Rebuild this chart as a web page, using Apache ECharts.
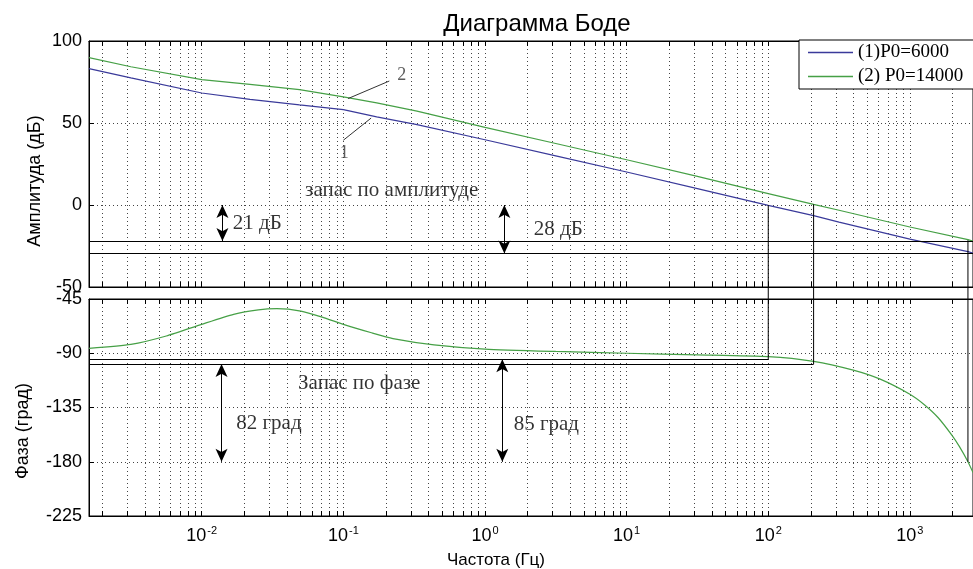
<!DOCTYPE html>
<html>
<head>
<meta charset="UTF-8">
<title>Диаграмма Боде</title>
<script src="https://cdn.jsdelivr.net/npm/echarts@6/dist/echarts.min.js"></script>
<style>
  html, body { margin: 0; padding: 0; background: #fff; }
  #main { width: 973px; height: 569px; }
</style>
</head>
<body>
<div id="main"></div>
<script>
// частоты в Гц
var ampFreq  = [0.0016, 0.00316, 0.01, 0.0219, 0.049, 0.1, 0.172, 0.331, 1, 3.16, 10, 31.6, 100, 209, 316, 1000, 2570, 2790];
var amp1     = [83.2, 77.5, 68.3, 64.4, 61, 58.2, 53.7, 49, 39.8, 30, 20.1, 10, -0.2, -6.5, -10.4, -20.8, -28.4, -29.3];
var amp2     = [89.9, 84.3, 76.5, 73.6, 70.4, 65.9, 62.3, 57.2, 47.3, 37.5, 27.6, 17.5, 6.9, 0.4, -3.2, -13.4, -21.1, -22];

var phaseFreq = [0.0016, 0.00316, 0.00562, 0.01, 0.0168, 0.0251, 0.0339, 0.0501, 0.0708, 0.1, 0.158, 0.224, 0.437,
                 1, 3.16, 10, 31.6, 100, 209, 398, 617, 1000, 1259, 1585, 1995, 2239, 2570, 2790];
var phase2    = [-86, -82.7, -75.7, -66, -57.7, -54, -53, -55, -60, -66, -73, -77.8, -83,
                 -86.5, -88.5, -90, -91.3, -92.8, -96.7, -104, -111.5, -124, -132.5, -143.5, -158.5, -167.5, -180, -189];

var xLabelExp = [-2, -1, 0, 1, 2, 3];
var fMin = 0.0016, fMax = 2790;

// линии запасов (Гц, значение)
var ampLines = [
  [[fMin, -22], [fMax, -22]],
  [[fMin, -29.6], [fMax, -29.6]]
];
// вертикали через обе панели: частота, уровень в дБ, уровень фазы
var crossLines = [
  [100, 0, -95],
  [209, 0.4, -99],
  [2570, -21.5, -180]
];
var ampArrows = [
  [[0.014, 0], [0.014, -22]],
  [[1.37, 0], [1.37, -29.6]]
];
var leaders = [
  [[0.108, 64.9], [0.211, 75.6]],
  [[0.157, 53], [0.1, 39.5]]
];
var phaseLines = [
  [[fMin, -95], [100, -95]],
  [[fMin, -99], [209, -99]]
];
var phaseArrows = [
  [[0.0138, -99], [0.0138, -180]],
  [[1.325, -95], [1.325, -180]]
];
var ampTexts = [
  ['запас по амплитуде', 0.2193, 9],
  ['21 дБ', 0.0247, -11.3],
  ['28 дБ', 3.296, -15]
];
var numTexts = [
  ['2', 0.258, 79.1],
  ['1', 0.1014, 31.3]
];
var phaseTexts = [
  ['Запас по фазе', 0.1294, -114.9],
  ['82 град', 0.0298, -148],
  ['85 град', 2.71, -148.8]
];

var XMIN = Math.log10(fMin), XMAX = Math.log10(fMax);
var tickExp = [];
for (var n = -3; n <= 3; n++) {
  for (var k = 1; k <= 9; k++) {
    var v = n + Math.log10(k);
    if (v >= XMIN - 1e-9 && v <= XMAX + 1e-9) tickExp.push(v);
  }
}

function lx(f) { return Math.log10(f); }
function pts(fs, vs) { return fs.map(function (f, i) { return [lx(f), vs[i]]; }); }
function seg(s, sym) {
  return [
    { coord: [lx(s[0][0]), s[0][1]], symbol: sym, symbolSize: [9, 13] },
    { coord: [lx(s[1][0]), s[1][1]], symbol: sym, symbolSize: [9, 13] }
  ];
}
function txt(list, size, color) {
  return list.map(function (t) {
    return { value: [lx(t[1]), t[2]], label: { formatter: t[0], fontSize: size, color: color } };
  });
}

var serif = 'Liberation Serif';
var sans = 'Liberation Sans';
var dotted = { color: '#444', type: [1, 3], width: 1 };

function xAx(g, pos, label, split) {
  return {
    type: 'value', gridIndex: g, position: pos, min: XMIN, max: XMAX,
    axisLine: { show: true, onZero: false, lineStyle: { color: '#000' } },
    axisTick: { show: true, inside: true, length: 5, customValues: tickExp, lineStyle: { color: '#000' } },
    axisLabel: label ? {
      customValues: xLabelExp, margin: 9,
      formatter: function (v) { return '{b|10}{e|' + Math.round(v) + '}'; },
      rich: {
        b: { fontSize: 18, fontFamily: sans, color: '#000' },
        e: { fontSize: 11, fontFamily: sans, color: '#000', padding: [0, 0, 12, 1] }
      }
    } : { show: false },
    splitLine: { show: split, lineStyle: dotted }
  };
}
function yAx(g, min, max, step) {
  return {
    type: 'value', gridIndex: g, min: min, max: max, interval: step,
    axisLine: { show: true, onZero: false, lineStyle: { color: '#000' } },
    axisTick: { show: true, inside: true, length: 5, lineStyle: { color: '#000' } },
    axisLabel: { fontSize: 18, fontFamily: sans, color: '#000', margin: 7 },
    splitLine: { show: true, lineStyle: dotted }
  };
}

var series = [
  { name: '(1)P0=6000', type: 'line', xAxisIndex: 0, yAxisIndex: 0, symbol: 'none',
    lineStyle: { color: '#3a3a9a', width: 1.2 }, itemStyle: { color: '#3a3a9a' }, data: pts(ampFreq, amp1) },
  { name: '(2) P0=14000', type: 'line', xAxisIndex: 0, yAxisIndex: 0, symbol: 'none',
    lineStyle: { color: '#46a046', width: 1.2 }, itemStyle: { color: '#46a046' }, data: pts(ampFreq, amp2) },
  { name: '(2) P0=14000', type: 'line', xAxisIndex: 2, yAxisIndex: 1, symbol: 'none', smooth: 0.2,
    lineStyle: { color: '#46a046', width: 1.2 }, itemStyle: { color: '#46a046' }, data: pts(phaseFreq, phase2) },
  { name: 'amp-marks', type: 'line', xAxisIndex: 0, yAxisIndex: 0, data: [], silent: true,
    markLine: {
      silent: true, animation: false, symbol: 'none', label: { show: false },
      lineStyle: { color: '#000', width: 1, type: 'solid' },
      emphasis: { disabled: true },
      data: ampLines.map(function (s) { return seg(s, 'none'); })
        .concat(ampArrows.map(function (s) { return seg(s, 'arrow'); }))
        .concat(leaders.map(function (s) {
          var p = seg(s, 'none'); p[0].lineStyle = { color: '#333', width: 1 }; return p;
        }))
    } },
  { name: 'phase-marks', type: 'line', xAxisIndex: 2, yAxisIndex: 1, data: [], silent: true,
    markLine: {
      silent: true, animation: false, symbol: 'none', label: { show: false },
      lineStyle: { color: '#000', width: 1, type: 'solid' },
      emphasis: { disabled: true },
      data: phaseLines.map(function (s) { return seg(s, 'none'); })
        .concat(phaseArrows.map(function (s) { return seg(s, 'arrow'); }))
    } },
  { name: 'amp-text', type: 'scatter', xAxisIndex: 0, yAxisIndex: 0, symbolSize: 1, silent: true,
    itemStyle: { color: 'rgba(0,0,0,0)' },
    label: { show: true, position: 'inside', fontFamily: serif },
    data: txt(ampTexts, 21, '#000').concat(txt(numTexts, 18, '#333')) },
  { name: 'phase-text', type: 'scatter', xAxisIndex: 2, yAxisIndex: 1, symbolSize: 1, silent: true,
    itemStyle: { color: 'rgba(0,0,0,0)' },
    label: { show: true, position: 'inside', fontFamily: serif },
    data: txt(phaseTexts, 21, '#000') }
];

// вертикальные линии: в верхней панели продолжаются через промежуток до нижней
crossLines.forEach(function (c, i) {
  series.push({ name: 'cross-a' + i, type: 'line', xAxisIndex: 0, yAxisIndex: 0, symbol: 'none',
    clip: false, silent: true, lineStyle: { color: '#000', width: 1 },
    data: [[lx(c[0]), c[1]], [lx(c[0]), -57.3]] });
  series.push({ name: 'cross-p' + i, type: 'line', xAxisIndex: 2, yAxisIndex: 1, symbol: 'none',
    clip: false, silent: true, lineStyle: { color: '#000', width: 1 },
    data: [[lx(c[0]), -45], [lx(c[0]), c[2]]] });
});

var myChart = echarts.init(document.getElementById('main'));
var option = {
  backgroundColor: '#fff',
  animation: false,
  title: {
    text: 'Диаграмма Боде', left: 532, top: 7, textAlign: 'center',
    textStyle: { fontSize: 24, fontWeight: 'normal', fontFamily: sans, color: '#000' }
  },
  legend: {
    data: ['(1)P0=6000', '(2) P0=14000'],
    orient: 'vertical', left: 799, top: 40,
    icon: 'rect', itemWidth: 45, itemHeight: 1.5, itemGap: 5,
    padding: [3, 30, 3, 9],
    borderColor: '#000', borderWidth: 1, backgroundColor: '#fff',
    textStyle: { fontSize: 19, fontFamily: serif, color: '#000', lineHeight: 19 }
  },
  grid: [
    { left: 89, right: 0, top: 41, height: 246, show: true, borderColor: '#000', borderWidth: 1 },
    { left: 89, right: 0, top: 299, height: 217, show: true, borderColor: '#000', borderWidth: 1 }
  ],
  xAxis: [xAx(0, 'bottom', false, true), xAx(0, 'top', false, false),
          xAx(1, 'bottom', true, true), xAx(1, 'top', false, false)],
  yAxis: [yAx(0, -50, 100, 50), yAx(1, -225, -45, 45)],
  graphic: [
    { type: 'text', x: 35, y: 181, rotation: Math.PI / 2,
      style: { text: 'Амплитуда (дБ)', fontSize: 18, fontFamily: sans, fill: '#000', textAlign: 'center', textVerticalAlign: 'middle' } },
    { type: 'text', x: 23, y: 431, rotation: Math.PI / 2,
      style: { text: 'Фаза (град)', fontSize: 18, fontFamily: sans, fill: '#000', textAlign: 'center', textVerticalAlign: 'middle' } },
    { type: 'text', x: 496, y: 560,
      style: { text: 'Частота (Гц)', fontSize: 17, fontFamily: sans, fill: '#000', textAlign: 'center', textVerticalAlign: 'middle' } }
  ],
  series: series
};
myChart.setOption(option);
</script>
</body>
</html>
